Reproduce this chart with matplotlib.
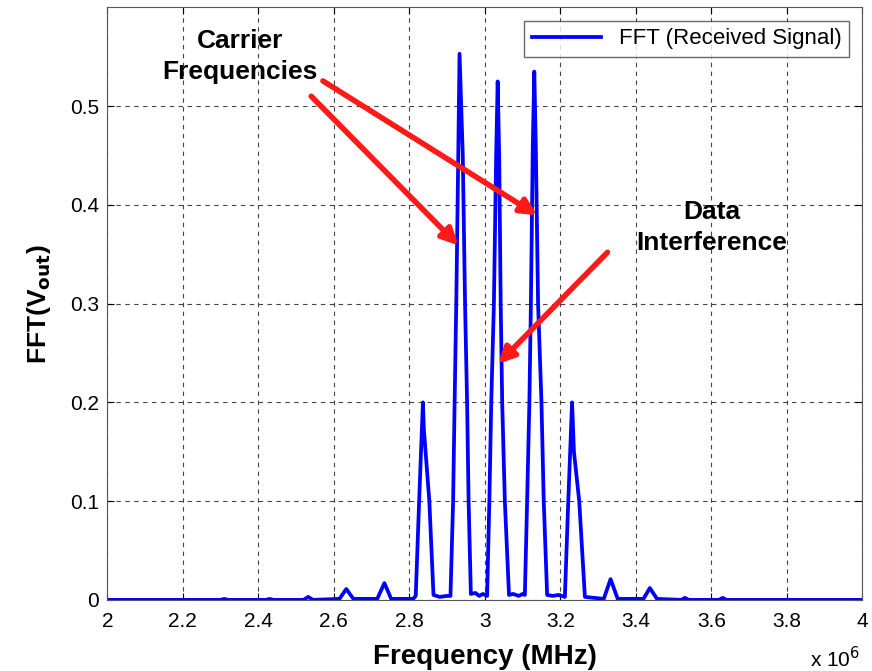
import matplotlib.pyplot as plt
from matplotlib.ticker import FuncFormatter
import numpy as np

plt.rc('font', family=['Liberation Sans', 'DejaVu Sans'], size=12)

# spectrum breakpoints (frequency in MHz, amplitude)
freq_mhz = [2.00, 2.30, 2.31, 2.32, 2.42, 2.43, 2.44, 2.52, 2.532, 2.545,
            2.615, 2.633, 2.652, 2.715, 2.734, 2.752,
            2.810, 2.817, 2.826, 2.836, 2.8385, 2.853, 2.864,
            2.880, 2.900, 2.909, 2.916, 2.920, 2.9245, 2.9296, 2.933, 2.9416, 2.9476, 2.953, 2.957, 2.963,
            2.975, 2.985, 2.995, 3.006, 3.012, 3.017, 3.024, 3.030, 3.034, 3.038, 3.042, 3.046, 3.053, 3.064,
            3.075, 3.090, 3.100, 3.106, 3.112, 3.118, 3.122, 3.127, 3.131, 3.135, 3.141, 3.150, 3.156, 3.165,
            3.180, 3.195, 3.212, 3.221, 3.231, 3.236, 3.250, 3.265,
            3.315, 3.333, 3.352, 3.420, 3.437, 3.456,
            3.52, 3.53, 3.54, 3.62, 3.63, 3.64, 4.00]
amp = [0.0, 0.0, 0.001, 0.0, 0.0, 0.001, 0.0, 0.0, 0.003, 0.0,
       0.001, 0.011, 0.001, 0.001, 0.017, 0.001,
       0.001, 0.004, 0.100, 0.200, 0.173, 0.100, 0.005,
       0.003, 0.004, 0.004, 0.100, 0.200, 0.304, 0.450, 0.553, 0.450, 0.300, 0.200, 0.100, 0.006,
       0.007, 0.004, 0.006, 0.004, 0.100, 0.200, 0.300, 0.450, 0.525, 0.450, 0.300, 0.200, 0.100, 0.005,
       0.006, 0.004, 0.006, 0.005, 0.100, 0.200, 0.300, 0.460, 0.535, 0.460, 0.300, 0.200, 0.100, 0.005,
       0.004, 0.005, 0.003, 0.100, 0.200, 0.150, 0.100, 0.003,
       0.001, 0.021, 0.001, 0.001, 0.012, 0.001,
       0.0, 0.002, 0.0, 0.0, 0.002, 0.0, 0.0]

freq_hz = np.array(freq_mhz) * 1e6

fig = plt.figure(figsize=(8.72, 6.71), dpi=100)
ax = fig.add_axes([0.123, 0.106, 0.866, 0.883])

ax.plot(freq_hz, amp, color='#0000ff', lw=2.7, label='FFT (Received Signal)')

ax.set_xlim(2e6, 4e6)
ax.set_ylim(0, 0.6)
ax.set_xticks(np.arange(2e6, 4.01e6, 0.2e6))
ax.set_yticks([0, 0.1, 0.2, 0.3, 0.4, 0.5])
ax.xaxis.set_major_formatter(FuncFormatter(lambda v, p: f'{v / 1e6:g}'))
ax.yaxis.set_major_formatter(FuncFormatter(lambda v, p: f'{v:g}'))
ax.tick_params(direction='in', labelsize=15, length=5, top=True, right=True)
ax.tick_params(axis='x', pad=9)
ax.tick_params(axis='y', pad=6)
ax.grid(True, color='#444444', ls=(0, (4, 4)), lw=0.8)
for s in ax.spines.values():
    s.set_color('#555555')

ax.set_xlabel('Frequency (MHz)', fontsize=20, fontweight='bold', labelpad=9)
ax.set_ylabel(r'FFT(V$_{\mathbf{out}}$)', fontsize=19, fontweight='bold', labelpad=12)
fig.text(0.958, 0.006, r'x 10$^6$', fontsize=15, ha='center')

ax.legend(loc='upper right', fontsize=16, frameon=True, fancybox=False,
          edgecolor='#444444', handlelength=3.1, borderaxespad=0.6,
          borderpad=0.35)

ax.text(2.351e6, 0.55, 'Carrier\nFrequencies', ha='center', va='center',
        fontsize=19, fontweight='bold', linespacing=1.38)
ax.text(3.601e6, 0.377, 'Data\nInterference', ha='center', va='center',
        fontsize=19, fontweight='bold', linespacing=1.38)

arrow = dict(arrowstyle='-|>', color='#ff1a1a', lw=4, mutation_scale=24)
ax.annotate('', xy=(3.145e6, 0.388), xytext=(2.565e6, 0.527), arrowprops=arrow)
ax.annotate('', xy=(2.935e6, 0.357), xytext=(2.535e6, 0.512), arrowprops=arrow)
ax.annotate('', xy=(3.03e6, 0.237), xytext=(3.33e6, 0.354), arrowprops=arrow)

fig.savefig('out.png', dpi=100)
